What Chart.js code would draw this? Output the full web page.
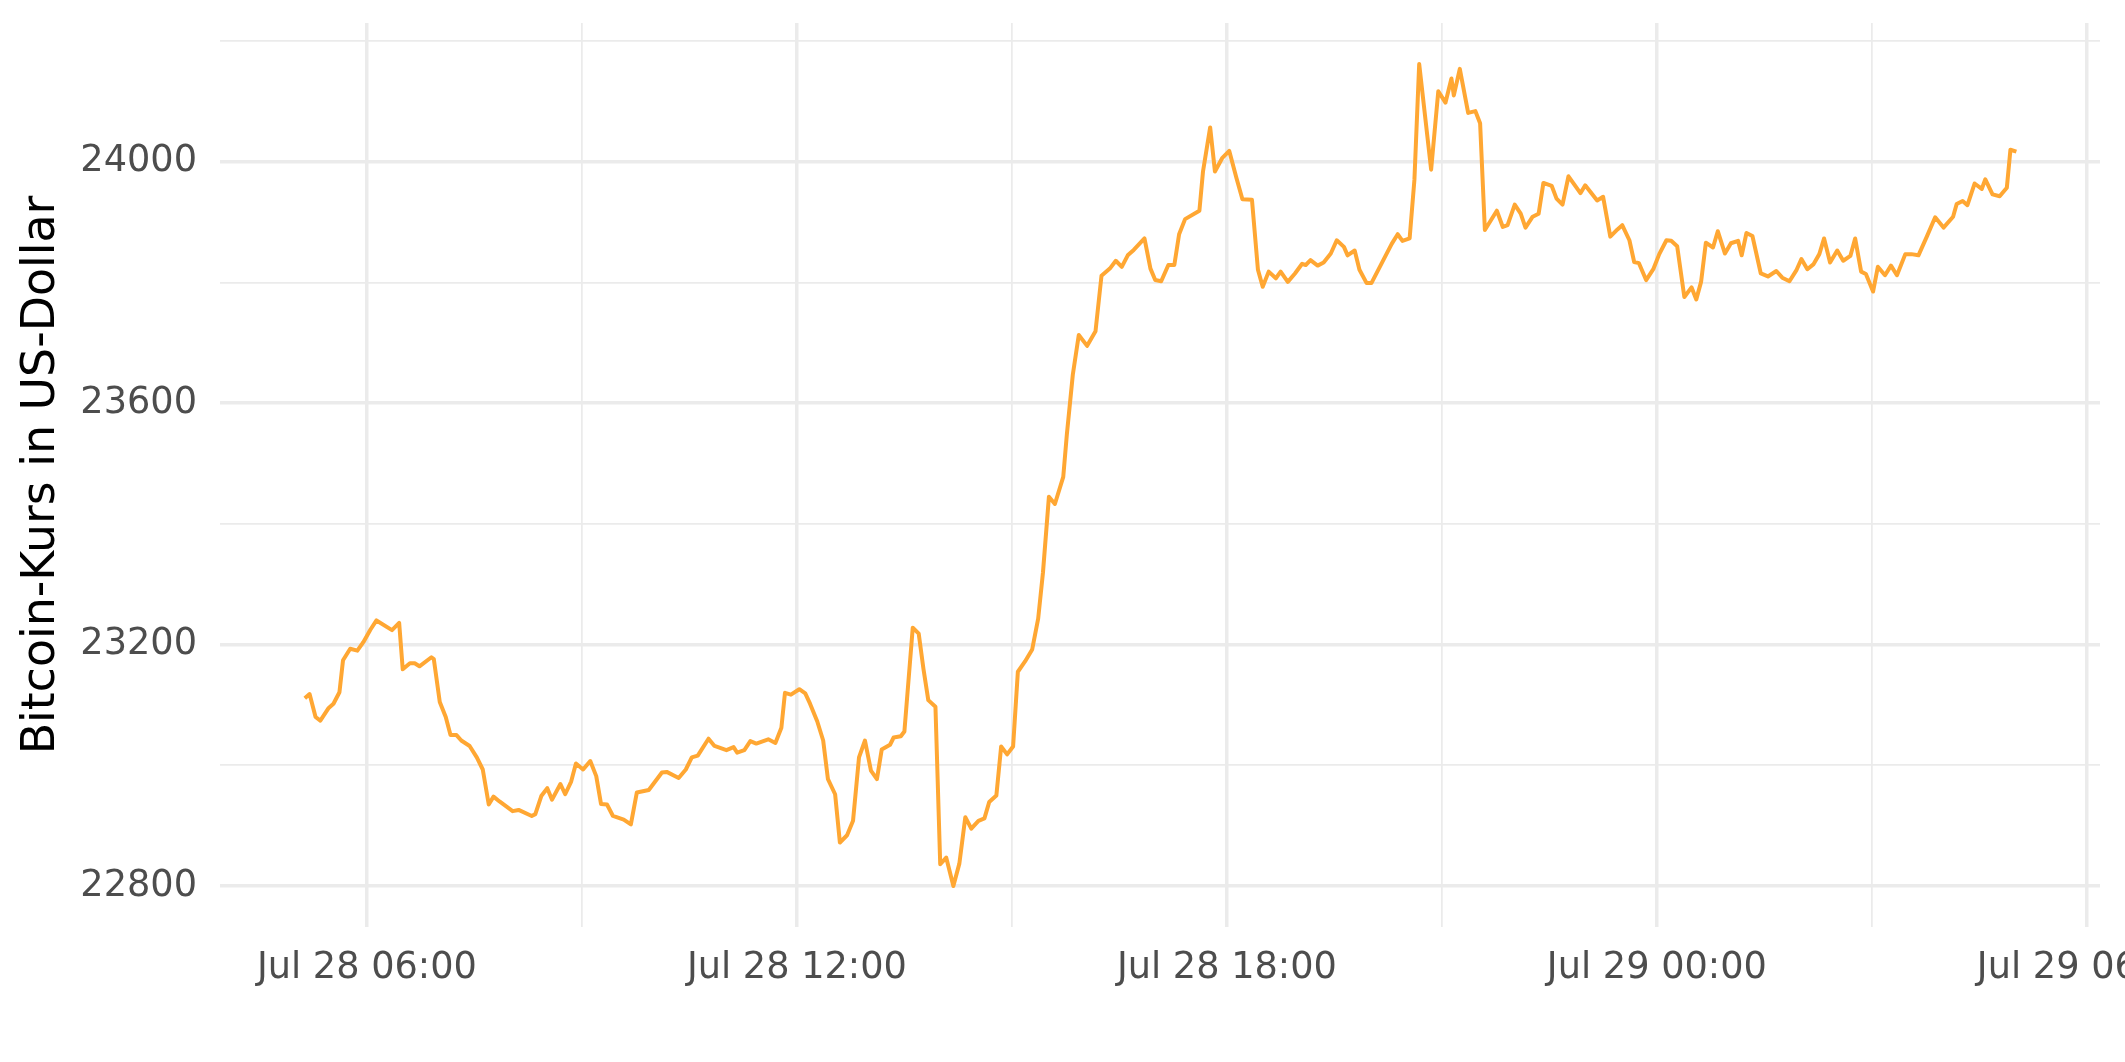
<!DOCTYPE html>
<html>
<head>
<meta charset="utf-8">
<script src="https://cdn.jsdelivr.net/npm/chart.js@4"></script>
<style>
  html, body { margin: 0; padding: 0; background: #ffffff; }
  canvas { display: block; }
</style>
</head>
<body>
<canvas id="chart" width="2125" height="1062"></canvas>
<script>
// time in minutes after Jul 28 00:00, price in USD
const times = [
  308, 312, 317, 321, 328, 332, 337, 340, 346, 352, 357, 363, 368, 381, 387, 390, 396, 400, 404, 414,
  416, 421, 426, 430, 435, 439, 446, 452, 457, 462, 466, 471, 482, 487, 498, 501, 506, 511, 515, 522,
  526, 531, 535, 541, 547, 552, 556, 561, 566, 575, 581, 586, 596, 607, 611, 621, 627, 632, 637, 646,
  651, 661, 667, 670, 676, 681, 686, 696, 702, 707, 710, 715, 722, 727, 731, 737, 742, 746, 752, 756,
  762, 767, 772, 777, 782, 787, 791, 798, 801, 807, 810, 817, 822, 826, 830, 836, 840, 845, 851, 856,
  861, 866, 872, 877, 881, 887, 891, 896, 901, 905, 911, 917, 922, 926, 931, 936, 943, 946, 951, 956,
  963, 970, 975, 982, 987, 992, 997, 1002, 1011, 1016, 1020, 1025, 1031, 1036, 1040, 1045, 1057, 1060, 1066, 1070,
  1076, 1082, 1088, 1093, 1101, 1106, 1110, 1115, 1121, 1125, 1131, 1137, 1143, 1146, 1150, 1156, 1161, 1167, 1172, 1178,
  1181, 1187, 1191, 1197, 1201, 1218, 1223, 1227, 1233, 1237, 1241, 1251, 1257, 1263, 1268, 1270, 1275, 1282, 1288, 1292,
  1296, 1306, 1311, 1315, 1321, 1326, 1330, 1336, 1341, 1345, 1352, 1356, 1361, 1366, 1376, 1380, 1390, 1395, 1401, 1407,
  1411, 1417, 1421, 1425, 1431, 1437, 1442, 1448, 1452, 1457, 1463, 1469, 1473, 1477, 1481, 1487, 1491, 1497, 1502, 1508,
  1511, 1515, 1520, 1527, 1533, 1540, 1545, 1551, 1557, 1561, 1566, 1571, 1576, 1580, 1585, 1591, 1596, 1602, 1606, 1611,
  1615, 1621, 1625, 1631, 1636, 1641, 1648, 1653, 1659, 1666, 1673, 1680, 1688, 1691, 1696, 1700, 1706, 1712, 1715, 1721,
  1727, 1733, 1736, 1741
];
const prices = [
  23111, 23118, 23080, 23074, 23095, 23102, 23121, 23174, 23193, 23190, 23204, 23225, 23240, 23224, 23236, 23159, 23169, 23169, 23164, 23179,
  23176, 23105, 23080, 23050, 23050, 23041, 23032, 23013, 22993, 22935, 22948, 22940, 22924, 22926, 22916, 22919, 22949, 22962, 22943, 22969,
  22952, 22973, 23003, 22993, 23007, 22982, 22936, 22935, 22916, 22910, 22902, 22955, 22959, 22988, 22989, 22979, 22993, 23013, 23016, 23044,
  23032, 23025, 23030, 23021, 23025, 23040, 23036, 23043, 23037, 23062, 23120, 23117, 23126, 23119, 23102, 23073, 23041, 22977, 22952, 22872,
  22884, 22908, 23013, 23041, 22991, 22977, 23026, 23034, 23046, 23048, 23056, 23228, 23218, 23159, 23108, 23097, 22836, 22847, 22800, 22837,
  22914, 22895, 22908, 22912, 22939, 22950, 23031, 23018, 23031, 23155, 23172, 23192, 23243, 23319, 23445, 23433, 23478, 23548, 23647, 23713,
  23695, 23719, 23811, 23823, 23836, 23826, 23845, 23854, 23873, 23823, 23804, 23802, 23829, 23829, 23880, 23905, 23919, 23984, 24057, 23984,
  24006, 24018, 23973, 23938, 23937, 23821, 23793, 23818, 23807, 23818, 23801, 23815, 23831, 23829, 23837, 23828, 23833, 23848, 23870, 23859,
  23845, 23853, 23821, 23799, 23799, 23864, 23880, 23869, 23873, 23970, 24162, 23987, 24117, 24098, 24138, 24110, 24154, 24081, 24084, 24064,
  23887, 23919, 23892, 23895, 23929, 23914, 23891, 23909, 23914, 23965, 23960, 23939, 23929, 23976, 23948, 23961, 23936, 23942, 23876, 23888,
  23895, 23870, 23834, 23832, 23804, 23822, 23847, 23870, 23869, 23860, 23776, 23792, 23772, 23801, 23866, 23858, 23885, 23848, 23865, 23869,
  23845, 23882, 23877, 23815, 23810, 23819, 23808, 23802, 23821, 23839, 23822, 23830, 23847, 23873, 23833, 23853, 23836, 23844, 23873, 23818,
  23814, 23785, 23826, 23812, 23828, 23812, 23847, 23847, 23845, 23876, 23908, 23891, 23909, 23930, 23935, 23928, 23964, 23955, 23971, 23946,
  23943, 23957, 24020, 24017
];
// gridline positions
const xTicks = [360, 540, 720, 900, 1080, 1260, 1440, 1620, 1800];
const yTicks = [22800, 23000, 23200, 23400, 23600, 23800, 24000, 24200];

const gridColor = "#ebebeb";
const textColor = "#4d4d4d";

const points = times.map((t, i) => ({ x: t, y: prices[i] }));

const pad2 = (n) => String(n).padStart(2, "0");
const timeLabel = (m) => {
  const day = 28 + Math.floor(m / 1440);
  const h = Math.floor((m % 1440) / 60);
  return "Jul " + day + " " + pad2(h) + ":00";
};

const bg = {
  id: "bg",
  beforeDraw: (chart) => {
    const c = chart.ctx;
    c.save();
    c.fillStyle = "#ffffff";
    c.fillRect(0, 0, chart.width, chart.height);
    c.restore();
  },
};

new Chart(document.getElementById("chart"), {
  type: "line",
  plugins: [bg],
  data: {
    datasets: [
      {
        data: points,
        borderColor: "#ffa733",
        borderWidth: 4,
        borderJoinStyle: "round",
        pointRadius: 0,
        tension: 0,
        fill: false,
      },
    ],
  },
  options: {
    responsive: false,
    animation: false,
    devicePixelRatio: 1,
    layout: { padding: { top: 23, right: 25, left: 0, bottom: 0 } },
    plugins: {
      legend: { display: false },
      tooltip: { enabled: false },
    },
    scales: {
      x: {
        type: "linear",
        min: 237,
        max: 1811,
        afterBuildTicks: (scale) => {
          scale.ticks = xTicks.map((v) => ({ value: v }));
        },
        afterFit: (scale) => {
          scale.height = 135;
          scale.paddingLeft = 0;
          scale.paddingRight = 0;
        },
        border: { display: false },
        grid: {
          color: gridColor,
          drawTicks: false,
          lineWidth: (ctx) => (ctx.tick && ctx.tick.value % 360 === 0 ? 3.5 : 1.75),
        },
        ticks: {
          autoSkip: false,
          maxRotation: 0,
          minRotation: 0,
          padding: 19,
          color: textColor,
          font: { family: "DejaVu Sans", size: 36.7 },
          callback: (v) => (v % 360 === 0 ? timeLabel(v) : ""),
        },
      },
      y: {
        min: 22732,
        max: 24230,
        afterBuildTicks: (scale) => {
          scale.ticks = yTicks.map((v) => ({ value: v }));
        },
        afterFit: (scale) => {
          scale.width = 220;
          scale.paddingTop = 0;
          scale.paddingBottom = 0;
        },
        border: { display: false },
        grid: {
          color: gridColor,
          drawTicks: false,
          lineWidth: (ctx) => (ctx.tick && ctx.tick.value % 400 === 0 ? 3.5 : 1.75),
        },
        ticks: {
          autoSkip: false,
          padding: 23,
          color: textColor,
          font: { family: "DejaVu Sans", size: 36.7 },
          callback: (v) => (v % 400 === 0 ? String(v) : ""),
        },
        title: {
          display: true,
          text: "Bitcoin-Kurs in US-Dollar",
          color: "#000000",
          font: { family: "DejaVu Sans", size: 45.8 },
          padding: { top: 15, bottom: 0 },
        },
      },
    },
  },
});
</script>
</body>
</html>
